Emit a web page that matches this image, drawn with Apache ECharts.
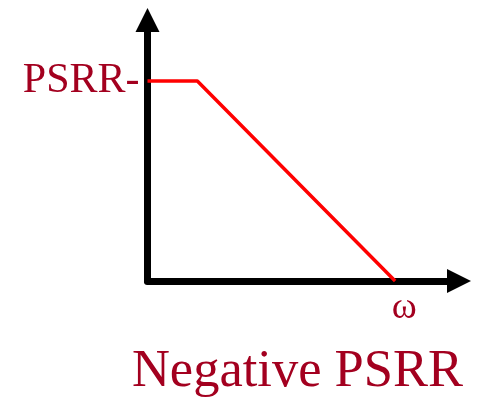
<!DOCTYPE html>
<html>
<head>
<meta charset="utf-8">
<script src="https://cdn.jsdelivr.net/npm/echarts@6/dist/echarts.min.js"></script>
<style>
  html, body { margin: 0; padding: 0; background: #fff; }
  #chart { width: 483px; height: 398px; }
</style>
</head>
<body>
<div id="chart"></div>
<script>
// frequency (normalised) and PSRR (normalised) of the response curve
const omega = [0, 0.16, 0.795];
const psrr = [0.766, 0.766, 0];
const yTickValues = [0.766];
const yTickLabels = ['PSRR-'];
const xTickValues = [0.795];
const xTickLabels = ['\u03c9'];

const darkRed = '#a3001f';
const serif = '"Liberation Serif", "DejaVu Serif", serif';

let myChart = echarts.init(document.getElementById('chart'));

const points = omega.map((w, i) => [w, psrr[i]]);

const option = {
  animation: false,
  title: {
    text: 'Negative PSRR',
    right: 15,
    top: 341,
    textStyle: {
      fontFamily: serif,
      fontSize: 52.5,
      fontWeight: 'normal',
      color: darkRed
    }
  },
  grid: {
    left: 147.5,
    right: 24,
    top: 20,
    bottom: 117
  },
  xAxis: {
    type: 'value',
    min: 0,
    max: 1,
    splitLine: { show: false },
    axisTick: { show: false },
    axisLine: {
      show: true,
      symbol: ['none', 'triangle'],
      symbolSize: [24, 24],
      lineStyle: { color: '#000', width: 7 }
    },
    axisLabel: {
      customValues: xTickValues,
      formatter: v => xTickLabels[xTickValues.indexOf(v)] || '',
      margin: 8,
      padding: [0, 0, 0, 18],
      fontFamily: serif,
      fontSize: 38,
      color: darkRed
    }
  },
  yAxis: {
    type: 'value',
    min: 0,
    max: 1,
    splitLine: { show: false },
    axisTick: { show: false },
    axisLine: {
      show: true,
      symbol: ['none', 'triangle'],
      symbolSize: [24, 24],
      lineStyle: { color: '#000', width: 7 }
    },
    axisLabel: {
      customValues: yTickValues,
      formatter: v => yTickLabels[yTickValues.indexOf(v)] || '',
      margin: 8,
      fontFamily: serif,
      fontSize: 42,
      color: darkRed
    }
  },
  series: [
    {
      type: 'line',
      data: points,
      showSymbol: false,
      lineStyle: { color: '#ff0000', width: 3.5 },
      z: 1
    }
  ]
};

myChart.setOption(option);
</script>
</body>
</html>
